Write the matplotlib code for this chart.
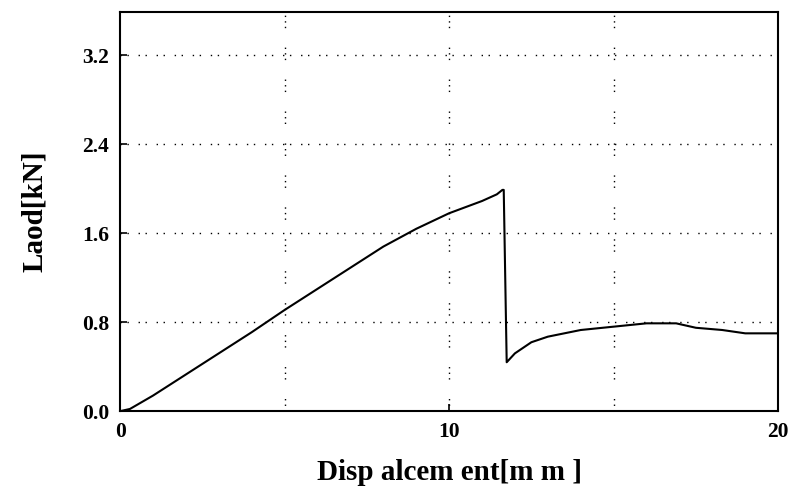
import matplotlib
matplotlib.use("Agg")
import matplotlib.pyplot as plt

# data
disp = [0.0, 0.3, 1.0, 2.0, 3.0, 4.0, 5.0, 6.0, 7.0, 8.0, 9.0, 10.0, 11.0, 11.45, 11.62,
        11.66, 11.72, 11.75, 12.0, 12.5, 13.0, 14.0, 15.0, 16.0, 16.9, 17.5, 18.3, 19.0, 20.0]
load = [0.0, 0.02, 0.14, 0.33, 0.52, 0.71, 0.91, 1.10, 1.29, 1.48, 1.64, 1.78, 1.89, 1.95, 1.99,
        1.99, 0.95, 0.44, 0.52, 0.62, 0.67, 0.73, 0.76, 0.79, 0.79, 0.75, 0.73, 0.70, 0.70]

yticks = [0.0, 0.8, 1.6, 2.4, 3.2]
yticklabels = ["0.0", "0.8", "1.6", "2.4", "3.2"]
xticks = [0, 10, 20]
xticklabels = ["0", "10", "20"]
xgrid = [5, 10, 15]

plt.rcParams['font.family'] = ['Liberation Serif', 'DejaVu Serif']
plt.rcParams['font.weight'] = 'bold'

fig = plt.figure(figsize=(7.9, 4.99), dpi=100)
ax = fig.add_axes([0.152, 0.176, 0.833, 0.800])

ax.plot(disp, load, color='black', lw=1.5)

ax.set_xlim(0, 20)
ax.set_ylim(0, 3.59)

for y in yticks[1:]:
    ax.axhline(y, color='black', lw=1.0, ls=(0, (1, 4, 1, 7)), zorder=0)
for x in xgrid:
    ax.axvline(x, color='black', lw=1.0, ls=(0, (1, 3, 1, 3, 1, 14)), zorder=0)

ax.set_yticks(yticks)
ax.set_yticklabels(yticklabels, fontsize=15.5, fontweight='bold')
ax.set_xticks(xticks)
ax.set_xticklabels(xticklabels, fontsize=15.5, fontweight='bold')
ax.tick_params(direction='in', length=5, width=1.2, pad=8)

for s in ax.spines.values():
    s.set_linewidth(1.5)

ax.set_xlabel("Disp alcem ent[m m ]", fontsize=21, fontweight='bold', labelpad=12)
ax.set_ylabel("Laod[kN]", fontsize=21, fontweight='bold', labelpad=24)

fig.savefig("out.png", dpi=100)
